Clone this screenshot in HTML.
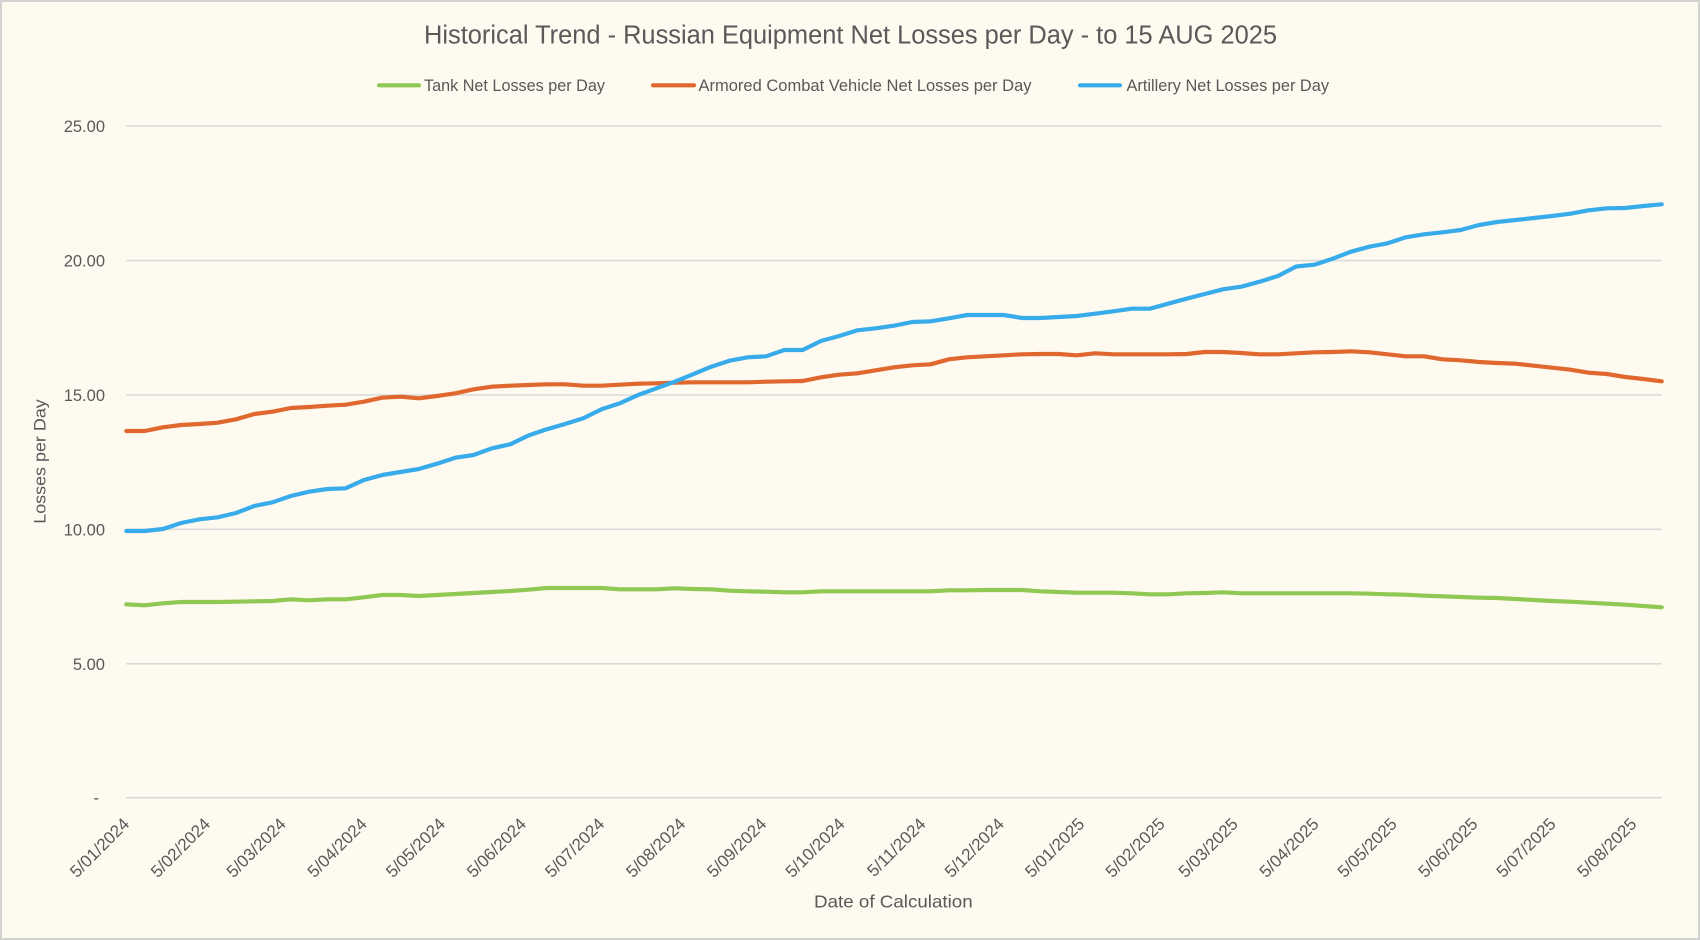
<!DOCTYPE html>
<html>
<head>
<meta charset="utf-8">
<style>
  html, body { margin: 0; padding: 0; background: #FEFAF0; }
  svg { display: block; }
  text { font-family: "Liberation Sans", sans-serif; fill: #595959; }
</style>
</head>
<body>
<svg width="1700" height="940" viewBox="0 0 1700 940" xmlns="http://www.w3.org/2000/svg">
  <rect x="1" y="1" width="1698" height="938" fill="#FEFAF0" stroke="#D3D3D3" stroke-width="2"/>

  <!-- Title -->
  <text x="424" y="43.3" font-size="25.5" textLength="853" lengthAdjust="spacingAndGlyphs">Historical Trend - Russian Equipment Net Losses per Day - to 15 AUG 2025</text>

  <!-- Legend -->
  <line x1="379" y1="85.3" x2="419" y2="85.3" stroke="#8FC852" stroke-width="4.2" stroke-linecap="round"/>
  <text x="424" y="91" font-size="16.5" textLength="181" lengthAdjust="spacingAndGlyphs">Tank Net Losses per Day</text>
  <line x1="653" y1="85.3" x2="694" y2="85.3" stroke="#E0682F" stroke-width="4.2" stroke-linecap="round"/>
  <text x="698.5" y="91" font-size="16.5" textLength="333" lengthAdjust="spacingAndGlyphs">Armored Combat Vehicle Net Losses per Day</text>
  <line x1="1080" y1="85.3" x2="1120" y2="85.3" stroke="#38ACEA" stroke-width="4.2" stroke-linecap="round"/>
  <text x="1126.5" y="91" font-size="16.5" textLength="202.5" lengthAdjust="spacingAndGlyphs">Artillery Net Losses per Day</text>

  <!-- Gridlines -->
  <g stroke="#D9D9D9" stroke-width="1.6">
    <line x1="126.3" y1="126" x2="1661.7" y2="126"/>
    <line x1="126.3" y1="260.6" x2="1661.7" y2="260.6"/>
    <line x1="126.3" y1="395" x2="1661.7" y2="395"/>
    <line x1="126.3" y1="529.3" x2="1661.7" y2="529.3"/>
    <line x1="126.3" y1="663.8" x2="1661.7" y2="663.8"/>
    <line x1="126.3" y1="797.7" x2="1661.7" y2="797.7"/>
  </g>

  <!-- Y labels -->
  <g font-size="16.5" text-anchor="end">
    <text x="105" y="132">25.00</text>
    <text x="105" y="266.6">20.00</text>
    <text x="105" y="401">15.00</text>
    <text x="105" y="535.3">10.00</text>
    <text x="105" y="669.8">5.00</text>
    <text x="99" y="803.7">-</text>
  </g>

  <!-- Y axis title -->
  <text transform="translate(45.5,461.5) rotate(-90)" font-size="17" text-anchor="middle" textLength="124.5" lengthAdjust="spacingAndGlyphs">Losses per Day</text>

  <!-- X labels -->
  <g font-size="17" text-anchor="end">
    <text transform="translate(130.3,825) rotate(-45)">5/01/2024</text>
    <text transform="translate(211.2,825) rotate(-45)">5/02/2024</text>
    <text transform="translate(287.0,825) rotate(-45)">5/03/2024</text>
    <text transform="translate(367.9,825) rotate(-45)">5/04/2024</text>
    <text transform="translate(446.3,825) rotate(-45)">5/05/2024</text>
    <text transform="translate(527.2,825) rotate(-45)">5/06/2024</text>
    <text transform="translate(605.5,825) rotate(-45)">5/07/2024</text>
    <text transform="translate(686.5,825) rotate(-45)">5/08/2024</text>
    <text transform="translate(767.4,825) rotate(-45)">5/09/2024</text>
    <text transform="translate(845.8,825) rotate(-45)">5/10/2024</text>
    <text transform="translate(926.7,825) rotate(-45)">5/11/2024</text>
    <text transform="translate(1005.1,825) rotate(-45)">5/12/2024</text>
    <text transform="translate(1085.5,825) rotate(-45)">5/01/2025</text>
    <text transform="translate(1166.0,825) rotate(-45)">5/02/2025</text>
    <text transform="translate(1239.0,825) rotate(-45)">5/03/2025</text>
    <text transform="translate(1319.8,825) rotate(-45)">5/04/2025</text>
    <text transform="translate(1398.0,825) rotate(-45)">5/05/2025</text>
    <text transform="translate(1478.7,825) rotate(-45)">5/06/2025</text>
    <text transform="translate(1556.8,825) rotate(-45)">5/07/2025</text>
    <text transform="translate(1637.6,825) rotate(-45)">5/08/2025</text>
  </g>

  <!-- X axis title -->
  <text x="814" y="907.3" font-size="17.2" textLength="158.7" lengthAdjust="spacingAndGlyphs">Date of Calculation</text>

  <!-- Series -->
  <g fill="none" stroke-width="4.2" stroke-linejoin="round" stroke-linecap="round">
    <polyline stroke="#8FC852" points="126.3,604.3 144.6,605.3 162.9,603.3 181.1,602 199.4,602 217.7,602 236,601.7 254.3,601.3 272.5,601 290.8,599.3 309.1,600.3 327.4,599.3 345.6,599.3 363.9,597.3 382.2,595 400.5,595 418.8,596 437,595 455.3,594 473.6,593 491.9,592 510.2,591 528.4,589.7 546.7,588 565,588 583.3,588 601.6,588 619.8,589.3 638.1,589.3 656.4,589.3 674.7,588.3 692.9,589 711.2,589.3 729.5,590.7 747.8,591.3 766.1,591.7 784.3,592.3 802.6,592.3 820.9,591.3 839.2,591.3 857.5,591.3 875.7,591.3 894,591.3 912.3,591.3 930.6,591.3 948.9,590.3 967.1,590.3 985.4,590 1003.7,590 1022,590 1040.3,591.3 1058.5,592 1076.8,592.7 1095.1,592.7 1113.4,592.7 1131.7,593.3 1149.9,594.3 1168.2,594.3 1186.5,593.3 1204.8,593 1223,592.3 1241.3,593.3 1259.6,593.3 1277.9,593.3 1296.2,593.3 1314.4,593.3 1332.7,593.3 1351,593.3 1369.3,593.7 1387.6,594.3 1405.8,594.7 1424.1,595.7 1442.4,596.3 1460.7,597 1479,597.7 1497.2,598 1515.5,599 1533.8,600 1552.1,601 1570.4,601.7 1588.6,602.7 1606.9,603.7 1625.2,604.7 1643.5,606 1661.7,607.3"/>
    <polyline stroke="#E0682F" points="126.3,431 144.6,431 162.9,427.3 181.1,425 199.4,424 217.7,422.7 236,419.3 254.3,414 272.5,411.7 290.8,408 309.1,407 327.4,405.7 345.6,404.7 363.9,401.7 382.2,397.7 400.5,396.7 418.8,398.3 437,396 455.3,393.3 473.6,389.3 491.9,386.7 510.2,385.7 528.4,385 546.7,384.3 565,384.3 583.3,385.7 601.6,385.7 619.8,384.7 638.1,383.7 656.4,383.3 674.7,382.7 692.9,382.3 711.2,382.3 729.5,382.3 747.8,382.3 766.1,381.7 784.3,381.3 802.6,381 820.9,377.3 839.2,374.7 857.5,373.3 875.7,370.3 894,367.3 912.3,365.3 930.6,364.3 948.9,359.3 967.1,357.3 985.4,356.3 1003.7,355.3 1022,354.3 1040.3,354 1058.5,354 1076.8,355.3 1095.1,353.3 1113.4,354.3 1131.7,354.3 1149.9,354.3 1168.2,354.3 1186.5,354 1204.8,352 1223,352 1241.3,353 1259.6,354.3 1277.9,354.3 1296.2,353.3 1314.4,352.3 1332.7,352 1351,351.3 1369.3,352.3 1387.6,354.3 1405.8,356.3 1424.1,356.3 1442.4,359.3 1460.7,360.3 1479,362 1497.2,363 1515.5,363.7 1533.8,365.7 1552.1,367.7 1570.4,369.7 1588.6,372.7 1606.9,374 1625.2,377 1643.5,379 1661.7,381.3"/>
    <polyline stroke="#38ACEA" points="126.3,531 144.6,531 162.9,529 181.1,523 199.4,519.3 217.7,517.3 236,513 254.3,506 272.5,502.3 290.8,496 309.1,491.7 327.4,489 345.6,488.3 363.9,480 382.2,475 400.5,472 418.8,469 437,463.7 455.3,457.7 473.6,455 491.9,448.3 510.2,444.3 528.4,435.5 546.7,429.3 565,424 583.3,418.3 601.6,409.3 619.8,403.3 638.1,395 656.4,388.3 674.7,381.7 692.9,374.3 711.2,366.7 729.5,360.7 747.8,357.3 766.1,356.3 784.3,350 802.6,350 820.9,341 839.2,336 857.5,330.3 875.7,328.3 894,325.7 912.3,322 930.6,321.3 948.9,318.3 967.1,315 985.4,315 1003.7,315 1022,318 1040.3,318 1058.5,317 1076.8,316 1095.1,313.7 1113.4,311.3 1131.7,308.7 1149.9,308.7 1168.2,303.7 1186.5,298.7 1204.8,294 1223,289.3 1241.3,286.7 1259.6,281.7 1277.9,276 1296.2,266.5 1314.4,264.7 1332.7,258.7 1351,251.7 1369.3,246.7 1387.6,243.3 1405.8,237.3 1424.1,234.3 1442.4,232.3 1460.7,230 1479,225 1497.2,222 1515.5,220 1533.8,218 1552.1,216 1570.4,213.7 1588.6,210.3 1606.9,208.3 1625.2,208 1643.5,206 1661.7,204.3"/>
  </g>
</svg>
</body>
</html>
